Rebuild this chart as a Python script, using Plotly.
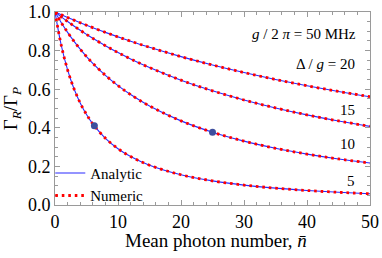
import plotly.graph_objects as go

# mean photon number samples
n_vals = [0, 1, 2, 3, 4, 5, 6, 8, 10, 12, 15, 20, 25, 30, 35, 40, 45, 50]
# Gamma_R / Gamma_P for Delta/g = 20, 15, 10, 5
r20 = [1.0, 0.9856, 0.9716, 0.9580, 0.9446, 0.9316, 0.9189, 0.8945, 0.8711, 0.8488,
       0.8172, 0.7689, 0.7255, 0.6862, 0.6505, 0.6180, 0.5883, 0.5610]
r15 = [1.0, 0.9747, 0.9505, 0.9274, 0.9052, 0.8840, 0.8636, 0.8253, 0.7898, 0.7570,
       0.7121, 0.6469, 0.5916, 0.5441, 0.5030, 0.4671, 0.4355, 0.4074]
r10 = [1.0, 0.9447, 0.8947, 0.8491, 0.8075, 0.7693, 0.7343, 0.6720, 0.6186, 0.5722,
       0.5132, 0.4359, 0.3771, 0.3310, 0.2940, 0.2637, 0.2385, 0.2174]
r5 = [1.0, 0.8264, 0.6998, 0.6039, 0.5290, 0.4691, 0.4203, 0.3457, 0.2917, 0.2510,
      0.2061, 0.1567, 0.1250, 0.1031, 0.0872, 0.0752, 0.0658, 0.0583]
curves = [r20, r15, r10, r5]
curve_labels = ["Δ / <i>g</i> = 20", "15", "10", "5"]
label_y = [0.73, 0.492, 0.316, 0.124]

# highlighted points
mark_n = [6.25, 25]
mark_v = [0.41, 0.377]

x_ticks = [0, 10, 20, 30, 40, 50]
y_ticks = [0.0, 0.2, 0.4, 0.6, 0.8, 1.0]

FONT = "Liberation Serif, Times New Roman, serif"
BLUE = "#2a2aff"
RED = "#ff0000"

fig = go.Figure()
for i, c in enumerate(curves):
    fig.add_trace(go.Scatter(
        x=n_vals, y=c, mode="lines", line=dict(color=BLUE, width=1.1, shape="spline"),
        name="Analytic", showlegend=(i == 0), legendrank=1, hoverinfo="skip"))
for i, c in enumerate(curves):
    fig.add_trace(go.Scatter(
        x=n_vals, y=c, mode="lines",
        line=dict(color=RED, width=2.8, shape="spline", dash="2.6px,3.9px"),
        name="Numeric", showlegend=(i == 0), legendrank=2, hoverinfo="skip"))
fig.add_trace(go.Scatter(
    x=mark_n, y=mark_v, mode="markers",
    marker=dict(color="#3e4f9e", size=7), showlegend=False, hoverinfo="skip"))

for txt, yv in zip(curve_labels, label_y):
    fig.add_annotation(x=47.9, y=yv, xref="x", yref="y", text=txt, showarrow=False,
                       xanchor="right", yanchor="middle", font=dict(size=15, family=FONT, color="black"))
fig.add_annotation(x=48.1, y=0.886, xref="x", yref="y",
                   text="<i>g</i> / 2 <i>π</i> = 50 MHz", showarrow=False,
                   xanchor="right", yanchor="middle", font=dict(size=15, family=FONT, color="black"))

# axis titles as annotations for precise placement
fig.add_annotation(x=0.51, y=-0.182, xref="paper", yref="paper",
                   text="Mean photon number, <i>n̄</i>", showarrow=False,
                   xanchor="center", yanchor="middle", font=dict(size=19, family=FONT, color="black"))
fig.add_annotation(x=-0.137, y=0.5, xref="paper", yref="paper", textangle=-90,
                   text="Γ<sub><i>R</i></sub>/Γ<sub><i>P</i></sub>", showarrow=False,
                   xanchor="center", yanchor="middle", font=dict(size=19, family=FONT, color="black"))

axis_common = dict(
    showline=True, linecolor="#9a9a9a", linewidth=1, mirror="allticks",
    ticks="inside", ticklen=5, tickcolor="#9a9a9a", tickwidth=1,
    showgrid=False, zeroline=False, automargin=False, ticklabeloverflow="allow",
    tickfont=dict(size=18, family=FONT, color="black"),
)
fig.update_xaxes(range=[0, 50], tickvals=x_ticks, ticktext=[str(t) for t in x_ticks],
                 minor=dict(dtick=2, ticks="inside", ticklen=3, tickcolor="#9a9a9a", showgrid=False),
                 **axis_common)
fig.update_yaxes(range=[0, 1], tickvals=y_ticks, ticktext=[f"{t:.1f}" for t in y_ticks],
                 minor=dict(dtick=0.05, ticks="inside", ticklen=3, tickcolor="#9a9a9a", showgrid=False),
                 **axis_common)

fig.update_layout(
    width=382, height=258,
    margin=dict(l=55, r=12, t=12, b=53, autoexpand=False),
    plot_bgcolor="white", paper_bgcolor="white",
    font=dict(family=FONT, color="black"),
    hovermode=False,
    legend=dict(x=-0.015, y=-0.035, xanchor="left", yanchor="bottom",
                bgcolor="rgba(0,0,0,0)", font=dict(size=15, family=FONT, color="black"),
                itemwidth=30, tracegroupgap=0),
)
# remove the default page margin so the figure sits at the window's top-left corner
fig.write_html("out.html", config={"displayModeBar": False},
               post_script="document.body.style.margin='0';")
